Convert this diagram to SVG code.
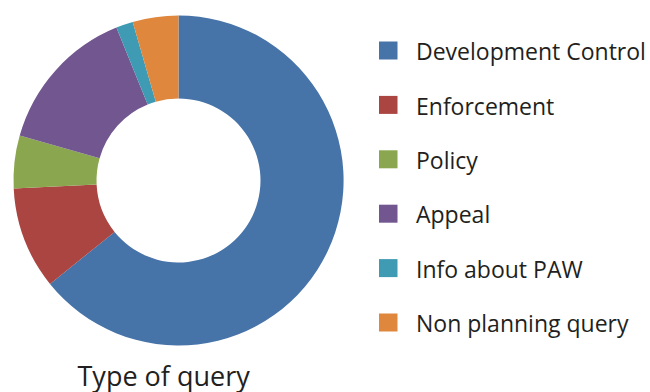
<svg xmlns="http://www.w3.org/2000/svg" width="650" height="392" viewBox="0 0 650 392">
<style>
text{font-family:"Open Sans","Noto Sans","Liberation Sans",sans-serif;font-size:23px;fill:#231f20}
#title text{font-size:27px}
.dc{fill:#4673a8}.en{fill:#aa4542}.po{fill:#8aa64f}.ap{fill:#72568f}.in{fill:#3f9bb3}.np{fill:#de873d}
</style>
<rect width="650" height="392" fill="#fff"/>
<g id="donut">
<path id="slice-dc" class="dc" d="M178.5,15.5 A165,165 0 1 1 50.0,283.9 L114.6,231.9 A82,82 0 1 0 178.5,98.5 Z"/>
<path id="slice-en" class="en" d="M50.0,283.9 A165,165 0 0 1 13.7,188.6 L96.6,184.5 A82,82 0 0 0 114.6,231.9 Z"/>
<path id="slice-po" class="po" d="M13.7,188.6 A165,165 0 0 1 19.7,135.6 L99.6,158.2 A82,82 0 0 0 96.6,184.5 Z"/>
<path id="slice-ap" class="ap" d="M19.7,135.6 A165,165 0 0 1 116.4,27.6 L147.7,104.5 A82,82 0 0 0 99.6,158.2 Z"/>
<path id="slice-in" class="in" d="M116.4,27.6 A165,165 0 0 1 132.7,22.0 L155.8,101.7 A82,82 0 0 0 147.7,104.5 Z"/>
<path id="slice-np" class="np" d="M132.7,22.0 A165,165 0 0 1 178.5,15.5 L178.5,98.5 A82,82 0 0 0 155.8,101.7 Z"/>
</g>
<g id="legend">
<g id="leg-dc"><rect class="dc" x="379" y="41.5" width="18.5" height="18"/><text x="416" y="60">Development Control</text></g>
<g id="leg-en"><rect class="en" x="379" y="95.9" width="18.5" height="18"/><text x="416" y="114.6">Enforcement</text></g>
<g id="leg-po"><rect class="po" x="379" y="150.3" width="18.5" height="18"/><text x="416" y="169">Policy</text></g>
<g id="leg-ap"><rect class="ap" x="379" y="204.7" width="18.5" height="18"/><text x="416" y="223.4">Appeal</text></g>
<g id="leg-in"><rect class="in" x="379" y="259.1" width="18.5" height="18"/><text x="416" y="277.8">Info about PAW</text></g>
<g id="leg-np"><rect class="np" x="379" y="313.5" width="18.5" height="18"/><text x="416" y="332.2">Non planning query</text></g>
</g>
<g id="title"><text x="77.5" y="385.5">Type of query</text></g>
</svg>
